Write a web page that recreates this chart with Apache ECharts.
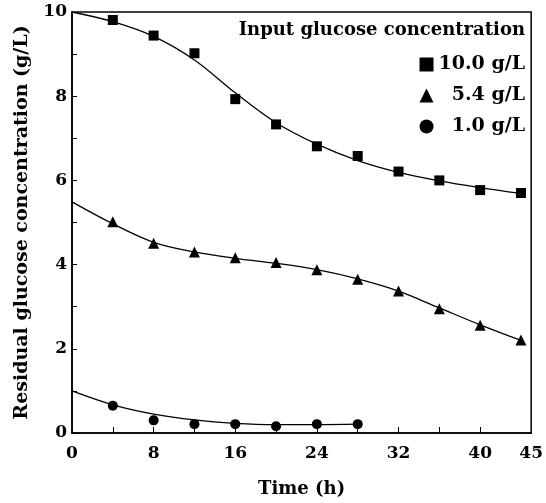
<!DOCTYPE html>
<html>
<head>
<meta charset="utf-8">
<script src="https://cdn.jsdelivr.net/npm/echarts@6/dist/echarts.min.js"></script>
<style>
  html, body { margin: 0; padding: 0; background: #fff; }
  #chart { width: 546px; height: 503px; }
</style>
</head>
<body>
<div id="chart"></div>
<script>
// sampling times (h)
var timeData = [4, 8, 12, 16, 20, 24, 28, 32, 36, 40, 44];
var timeLow = [4, 8, 12, 16, 20, 24, 28];

// measured residual glucose (g/L)
var glc10 = [9.81, 9.44, 9.02, 7.93, 7.33, 6.81, 6.58, 6.21, 6.0, 5.77, 5.70];
var glc54 = [5.02, 4.51, 4.30, 4.16, 4.05, 3.88, 3.65, 3.37, 2.95, 2.56, 2.21];
var glc10Low = [0.65, 0.30, 0.21, 0.21, 0.16, 0.21, 0.21];

// fitted curves
var fitT10 = [0, 4, 8, 12, 16, 20, 24, 28, 32, 36, 40, 44];
var fit10 = [10.0, 9.77, 9.42, 8.86, 8.08, 7.37, 6.86, 6.47, 6.19, 5.99, 5.83, 5.69];
var fitT54 = [0, 4, 8, 12, 16, 20, 24, 28, 32, 36, 40, 44];
var fit54 = [5.49, 4.97, 4.53, 4.30, 4.15, 4.03, 3.88, 3.66, 3.37, 2.97, 2.57, 2.20];
var fitTLow = [0, 4, 8, 12, 16, 20, 24, 28];
var fitLow = [1.0, 0.67, 0.45, 0.31, 0.23, 0.20, 0.20, 0.21];

var seriesNames = ['10.0 g/L', '5.4 g/L', '1.0 g/L'];
var xLabels = [0, 8, 16, 24, 32, 40, 45];
var xTicks = [4, 8, 12, 16, 20, 24, 28, 32, 36, 40];

function pairs(xs, ys) {
    return xs.map(function (x, i) { return [x, ys[i]]; });
}

var font = 'DejaVu Serif';
var chart = echarts.init(document.getElementById('chart'));

function fitLine(xs, ys) {
    return {
        type: 'line', smooth: 0.35, showSymbol: false, silent: true,
        lineStyle: { color: '#000', width: 1.3 }, data: pairs(xs, ys), z: 2
    };
}
function points(name, symbol, size, xs, ys) {
    return {
        name: name, type: 'scatter', symbol: symbol, symbolSize: size,
        itemStyle: { color: '#000', opacity: 1 }, data: pairs(xs, ys), z: 3
    };
}

chart.setOption({
    animation: false,
    backgroundColor: '#fff',
    textStyle: { fontFamily: font, color: '#000', fontWeight: 'bold' },
    title: {
        text: 'Input glucose concentration',
        right: 16, top: 16,
        textStyle: { fontFamily: font, fontSize: 18, fontWeight: 'bold', color: '#000' }
    },
    legend: {
        data: seriesNames,
        orient: 'vertical',
        right: 16, top: 50,
        itemGap: 12,
        itemWidth: 14, itemHeight: 14,
        formatter: function (name) {
            // pad the single digit entries so the numbers line up on the right
            return name.length < 8 ? '  ' + name : name;
        },
        textStyle: { fontFamily: font, fontSize: 19, fontWeight: 'bold', color: '#000' }
    },
    grid: {
        left: 72, right: 12, top: 12, bottom: 60,
        show: true, borderColor: '#000', borderWidth: 1.5
    },
    xAxis: {
        type: 'value', min: 0, max: 45,
        name: 'Time (h)', nameLocation: 'middle', nameGap: 47,
        nameTextStyle: { fontFamily: font, fontSize: 18, fontWeight: 'bold', color: '#000' },
        axisLine: { lineStyle: { color: '#000', width: 1.5 } },
        axisTick: { inside: true, length: 6, lineStyle: { color: '#000' }, customValues: xTicks },
        axisLabel: { customValues: xLabels, fontFamily: font, fontSize: 17, fontWeight: 'bold', color: '#000', margin: 12 },
        splitLine: { show: false }
    },
    yAxis: {
        type: 'value', min: 0, max: 10, interval: 1,
        name: 'Residual glucose concentration (g/L)', nameLocation: 'middle', nameGap: 40,
        nameTextStyle: { fontFamily: font, fontSize: 19, fontWeight: 'bold', color: '#000' },
        axisLine: { lineStyle: { color: '#000', width: 1.5 } },
        axisTick: { inside: true, length: 5, lineStyle: { color: '#000' } },
        axisLabel: {
            fontFamily: font, fontSize: 17, fontWeight: 'bold', color: '#000', margin: 5,
            formatter: function (v) { return v % 2 === 0 ? String(v) : ''; }
        },
        splitLine: { show: false }
    },
    series: [
        fitLine(fitT10, fit10),
        fitLine(fitT54, fit54),
        fitLine(fitTLow, fitLow),
        points(seriesNames[0], 'rect', 10, timeData, glc10),
        points(seriesNames[1], 'triangle', 11, timeData, glc54),
        points(seriesNames[2], 'circle', 10, timeLow, glc10Low)
    ]
});
</script>
</body>
</html>
